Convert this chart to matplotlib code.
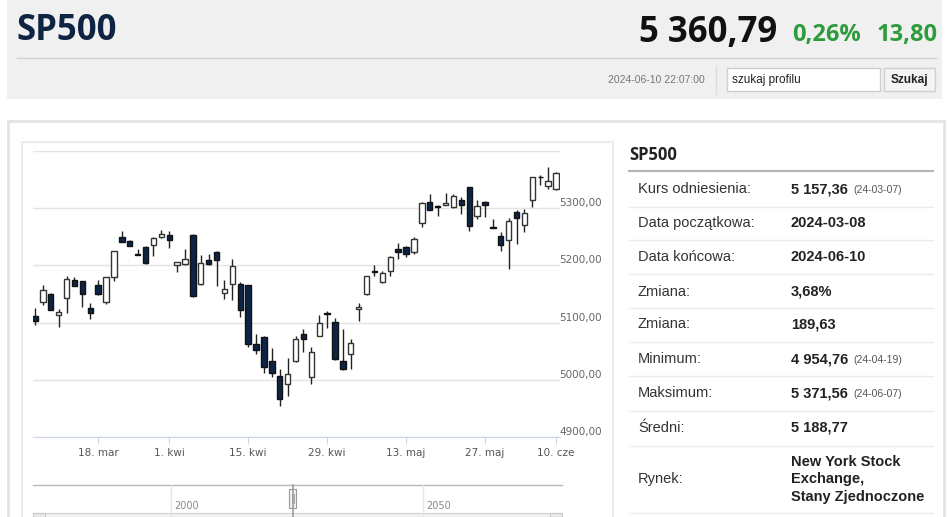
import numpy as np
import pandas as pd
import matplotlib
matplotlib.use('Agg')
import matplotlib.pyplot as plt
from matplotlib.patches import Rectangle

# daily candles for SP500, 2024-03-06 .. 2024-06-10
dates = pd.bdate_range('2024-03-06', '2024-06-10', freq='C',
                       holidays=['2024-03-29', '2024-05-27'])

opens = [5111.7, 5136.8, 5149.7, 5114.0, 5142.7, 5174.9, 5171.9, 5126.3, 5165.5, 5136.8,
         5179.0, 5250.3, 5242.0, 5219.8, 5231.6, 5235.7, 5249.1, 5253.2, 5200.6, 5201.8,
         5253.2, 5166.7, 5209.9, 5224.0, 5152.6, 5166.7, 5167.3, 5165.5, 5062.6, 5074.3,
         5032.2, 5006.4, 4993.0, 5032.2, 5080.7, 5004.7, 5076.6, 5116.4, 5101.2, 5032.2,
         5045.6, 5124.6, 5149.7, 5189.5, 5170.2, 5190.6, 5228.7, 5232.7, 5222.8, 5274.3,
         5310.5, 5304.1, 5305.8, 5301.8, 5315.2, 5336.8, 5286.0, 5310.5, 5266.7, 5252.0,
         5244.4, 5294.2, 5271.3, 5314.6, 5355.0, 5338.6, 5332.7]
closes = [5103.5, 5156.7, 5122.8, 5118.7, 5175.4, 5164.3, 5149.7, 5117.5, 5149.7, 5179.0,
          5224.6, 5240.9, 5234.5, 5219.0, 5203.5, 5248.0, 5254.4, 5243.9, 5205.3, 5211.1,
          5146.8, 5203.5, 5201.8, 5208.8, 5159.6, 5199.4, 5122.8, 5062.0, 5052.0, 5021.6,
          5011.1, 4967.3, 5010.5, 5070.8, 5071.9, 5049.1, 5100.0, 5115.2, 5035.7, 5018.1,
          5063.7, 5128.1, 5180.7, 5188.3, 5186.5, 5214.6, 5222.8, 5219.9, 5246.2, 5308.8,
          5297.1, 5302.9, 5308.8, 5321.1, 5306.4, 5268.4, 5304.7, 5305.8, 5266.1, 5235.7,
          5277.2, 5283.6, 5291.8, 5354.4, 5353.8, 5346.8, 5360.8]
highs = [5126.3, 5165.5, 5152.6, 5123.4, 5181.3, 5179.0, 5172.5, 5135.0, 5173.7, 5180.0,
         5225.0, 5259.6, 5244.4, 5228.7, 5234.5, 5250.3, 5262.6, 5259.6, 5206.4, 5228.7,
         5255.0, 5218.7, 5219.3, 5224.6, 5173.7, 5211.1, 5170.2, 5166.1, 5079.5, 5076.6,
         5056.1, 5018.1, 5038.6, 5076.6, 5088.3, 5057.9, 5113.5, 5120.5, 5108.8, 5088.3,
         5071.9, 5135.1, 5181.9, 5200.6, 5190.0, 5217.0, 5238.6, 5234.5, 5249.1, 5310.5,
         5325.1, 5305.8, 5326.3, 5324.0, 5319.3, 5337.4, 5313.5, 5312.3, 5281.3, 5259.0,
         5283.0, 5297.7, 5298.8, 5355.0, 5358.5, 5371.6, 5362.6]
lows = [5095.3, 5131.0, 5122.2, 5093.0, 5117.5, 5163.2, 5127.5, 5107.0, 5149.1, 5133.3,
        5173.0, 5240.4, 5233.3, 5218.1, 5203.0, 5217.0, 5248.5, 5230.4, 5187.7, 5201.2,
        5145.6, 5166.1, 5201.2, 5164.3, 5141.0, 5139.2, 5110.5, 5056.7, 5044.4, 5011.1,
        5004.1, 4954.8, 4971.9, 5031.6, 5049.1, 4993.0, 5076.6, 5091.2, 5035.1, 5017.0,
        5019.3, 5102.9, 5149.1, 5180.7, 5169.6, 5181.9, 5211.1, 5214.0, 5219.9, 5266.7,
        5296.5, 5286.0, 5305.3, 5300.6, 5290.1, 5259.6, 5281.3, 5284.2, 5264.9, 5225.7,
        5193.6, 5237.4, 5259.0, 5301.8, 5339.8, 5333.9, 5332.2]

tick_dates = ['2024-03-18', '2024-04-01', '2024-04-15', '2024-04-29',
              '2024-05-13', '2024-05-27', '2024-06-10']
tick_labels = ['18. mar', '1. kwi', '15. kwi', '29. kwi', '13. maj', '27. maj', '10. cze']
y_levels = [4900, 5000, 5100, 5200, 5300, 5400]

table_labels = ['Kurs odniesienia:', 'Data początkowa:', 'Data końcowa:', 'Zmiana:',
                'Zmiana:', 'Minimum:', 'Maksimum:', 'Średni:', 'Rynek:']
table_values = ['5 157,36', '2024-03-08', '2024-06-10', '3,68%', '189,63',
                '4 954,76', '5 371,56', '5 188,77',
                'New York Stock\nExchange,\nStany Zjednoczone']
table_notes = ['(24-03-07)', '', '', '', '', '(24-04-19)', '(24-06-07)', '', '']

W, H = 948, 517
fig = plt.figure(figsize=(W / 100, H / 100), dpi=100)
fig.patch.set_facecolor('white')

# page background in pixel coordinates
bg = fig.add_axes([0, 0, 1, 1])
bg.set_xlim(0, W)
bg.set_ylim(H, 0)
bg.axis('off')

HEAD = ['Open Sans', 'DejaVu Sans']
ARIAL = ['Liberation Sans', 'DejaVu Sans']
NARROW = ['Liberation Sans Narrow', 'Liberation Sans', 'DejaVu Sans']

# header
bg.add_patch(Rectangle((7, 0), 935, 99, facecolor='#f0f0f0', edgecolor='none'))
bg.plot([17, 936], [58, 58], color='#d2d2d2', lw=1)
bg.text(16, 31, 'SP500', fontsize=25, fontweight='bold', color='#0f2342',
        family=HEAD, va='center', ha='left')
bg.text(777, 33, '5 360,79', fontsize=25, fontweight='bold', color='#111111',
        family=HEAD, va='center', ha='right')
bg.text(792, 35, '0,26%', fontsize=17, fontweight='bold', color='#2e9b3c',
        family=HEAD, va='center', ha='left')
bg.text(938, 35, '13,80', fontsize=17, fontweight='bold', color='#2e9b3c',
        family=HEAD, va='center', ha='right')
bg.text(705, 80, '2024-06-10 22:07:00', fontsize=7.5, color='#777777',
        family=NARROW, va='center', ha='right')
bg.plot([716, 716], [66, 94], color='#dcdcdc', lw=1)
bg.add_patch(Rectangle((727, 68), 153, 23, facecolor='white', edgecolor='#cfcfcf', lw=1))
bg.text(732, 79.5, 'szukaj profilu', fontsize=8.5, color='#222222',
        family=NARROW, va='center', ha='left')
bg.add_patch(Rectangle((884, 68), 51, 23, facecolor='#f4f4f4', edgecolor='#cfcfcf', lw=1))
bg.text(909.5, 79.5, 'Szukaj', fontsize=8.5, fontweight='bold', color='#222222',
        family=NARROW, va='center', ha='center')

# content boxes
bg.add_patch(Rectangle((8, 121), 936, 420, facecolor='white', edgecolor='#e4e4e4', lw=2))
bg.add_patch(Rectangle((22, 142), 591, 400, facecolor='white', edgecolor='#ececec', lw=1.5))

# side table
bg.text(629, 155, 'SP500', fontsize=12, fontweight='bold', color='#222222',
        family=HEAD, va='center', ha='left')
bg.plot([629, 933], [171, 171], color='#b4b4b4', lw=1.5)
row_y = [189, 223, 257, 291.5, 324.5, 359, 393, 427.5, 479.5]
sep_y = [206.5, 240, 274, 307.5, 341.5, 375.5, 411, 445.5, 513]
for lab, val, note, y in zip(table_labels, table_values, table_notes, row_y):
    bg.text(638, y, lab, fontsize=10.5, color='#333333', family=ARIAL,
            va='center', ha='left')
    bg.text(791, y, val, fontsize=10.5, fontweight='bold', color='#222222',
            family=ARIAL, va='center', ha='left', linespacing=1.3)
    if note:
        bg.text(853, y + 1, note, fontsize=7.5, color='#555555', family=ARIAL,
                va='center', ha='left')
for y in sep_y:
    bg.plot([629, 933], [y, y], color='#ebebeb', lw=1)

# navigator strip under the chart
bg.plot([33, 562], [485, 485], color='#b8b8b8', lw=1)
for xv, txt in [(171, '2000'), (423, '2050')]:
    bg.plot([xv, xv], [485, 517], color='#e6e6e6', lw=1)
    bg.text(xv + 3, 506, txt, fontsize=7, color='#888888', va='center', ha='left')
bg.plot([293, 293], [485, 517], color='#a0a0a0', lw=1.2)
bg.add_patch(Rectangle((289.5, 489), 7, 19, facecolor='#f2f2f2', edgecolor='#999999', lw=0.8))
bg.plot([292, 292], [494, 503], color='#999999', lw=0.6)
bg.plot([294.5, 294.5], [494, 503], color='#999999', lw=0.6)
bg.add_patch(Rectangle((33, 513), 529, 6, facecolor='#f2f2f2', edgecolor='#d0d0d0', lw=0.8))
bg.add_patch(Rectangle((33, 513), 12, 6, facecolor='#e8e8e8', edgecolor='#c8c8c8', lw=0.8))
bg.add_patch(Rectangle((550, 513), 12, 6, facecolor='#e8e8e8', edgecolor='#c8c8c8', lw=0.8))

# candlestick chart
ax = fig.add_axes([33 / W, (H - 437) / H, (560 - 33) / W, (437 - 151) / H])
ax.set_facecolor('none')
x = np.arange(len(dates))
o = np.array(opens)
c = np.array(closes)
up = c >= o
ax.vlines(x, lows, highs, color='#222222', lw=1, zorder=2)
ax.bar(x[up], (c - o)[up], bottom=o[up], width=0.68, facecolor='white',
       edgecolor='#333333', lw=1, zorder=3)
ax.bar(x[~up], (o - c)[~up], bottom=c[~up], width=0.68, facecolor='#0d2447',
       edgecolor='#111111', lw=1, zorder=3)

ax.set_xlim(-0.25, len(dates) - 0.5)
ax.set_ylim(4900, 5400)
ax.set_yticks(y_levels, labels=[f'{v},00' if v < 5400 else '' for v in y_levels])
tick_pos = np.searchsorted(dates.values, pd.to_datetime(tick_dates).values)
ax.set_xticks(tick_pos, labels=tick_labels)
ax.grid(axis='y', color='#e3e3e3', lw=1)
ax.set_axisbelow(True)
for s in ['top', 'left', 'right']:
    ax.spines[s].set_visible(False)
ax.spines['bottom'].set_color('#ccd6eb')
ax.tick_params(axis='x', direction='out', length=5, color='#ccd6eb',
               labelsize=7.5, labelcolor='#555555', pad=3)
ax.tick_params(axis='y', left=False, right=False, labelleft=False, labelright=True,
               labelsize=7.5, labelcolor='#666666', pad=-4)
for lbl in ax.get_yticklabels():
    lbl.set_verticalalignment('bottom')

fig.savefig('out.png', dpi=100)
